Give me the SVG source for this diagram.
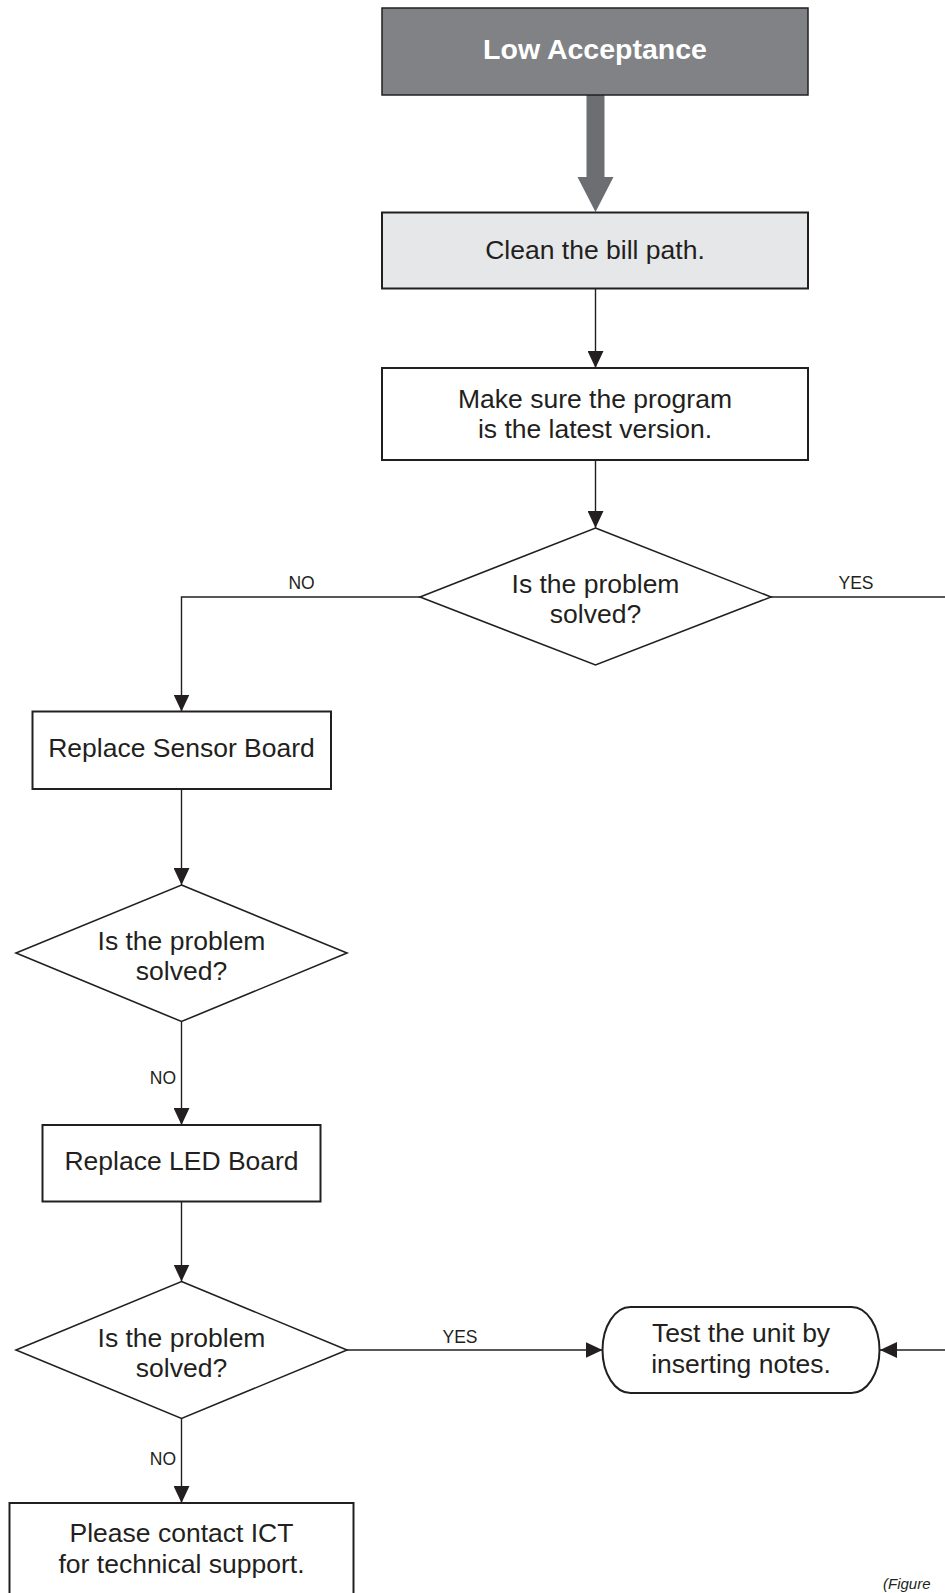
<svg xmlns="http://www.w3.org/2000/svg" width="945" height="1593" viewBox="0 0 945 1593">
<defs>
<style>
.t{font-family:"Liberation Sans",Arial,sans-serif;font-size:26.5px;fill:#231f20;text-anchor:middle}
.lbl{font-family:"Liberation Sans",Arial,sans-serif;font-size:17.5px;fill:#231f20}
.box{fill:#fff;stroke:#231f20;stroke-width:2}
.dia{fill:#fff;stroke:#231f20;stroke-width:1.6}
.ln{fill:none;stroke:#231f20;stroke-width:1.4}
.arr{marker-end:url(#ah)}
</style>
<marker id="ah" markerUnits="userSpaceOnUse" markerWidth="17" markerHeight="16" refX="17" refY="8" orient="auto">
<path d="M0,0 L17,8 L0,16 z" fill="#231f20"/>
</marker>
</defs>
<rect width="945" height="1593" fill="#fff"/>

<g id="connectors">
<polygon points="586.5,95 604.5,95 604.5,177 613.5,177 595.5,212 577.5,177 586.5,177" fill="#6d6e71"/>
<line class="ln arr" x1="595.5" y1="289" x2="595.5" y2="368"/>
<line class="ln arr" x1="595.5" y1="460" x2="595.5" y2="528"/>
<polyline class="ln arr" points="420,597 181.5,597 181.5,711.5"/>
<line class="ln" x1="771" y1="597" x2="945" y2="597"/>
<line class="ln arr" x1="181.5" y1="789" x2="181.5" y2="885"/>
<line class="ln arr" x1="181.5" y1="1021.5" x2="181.5" y2="1125"/>
<line class="ln arr" x1="181.5" y1="1201.5" x2="181.5" y2="1281.5"/>
<line class="ln arr" x1="347" y1="1350" x2="602.5" y2="1350"/>
<line class="ln arr" x1="945" y1="1350" x2="880" y2="1350"/>
<line class="ln arr" x1="181.5" y1="1418.5" x2="181.5" y2="1503"/>
<text class="lbl" x="301.5" y="589" text-anchor="middle">NO</text>
<text class="lbl" x="856" y="589" text-anchor="middle">YES</text>
<text class="lbl" x="176" y="1084" text-anchor="end">NO</text>
<text class="lbl" x="460" y="1343" text-anchor="middle">YES</text>
<text class="lbl" x="176" y="1465" text-anchor="end">NO</text>
</g>

<g id="start">
<rect x="382" y="8" width="426" height="87" fill="#808285" stroke="#231f20" stroke-width="1.5"/>
<text x="595" y="59" style="font-family:'Liberation Sans',Arial,sans-serif;font-size:28.5px;font-weight:bold;fill:#fff;text-anchor:middle">Low Acceptance</text>
</g>

<g id="clean">
<rect x="382" y="212.5" width="426" height="76" fill="#e6e7e8" stroke="#231f20" stroke-width="2"/>
<text class="t" x="595" y="259">Clean the bill path.</text>
</g>

<g id="program">
<rect class="box" x="382" y="368" width="426" height="92"/>
<text class="t" x="595" y="408">Make sure the program</text>
<text class="t" x="595" y="438">is the latest version.</text>
</g>

<g id="decision1">
<polygon class="dia" points="595.5,528 771,597 595.5,665 420,597"/>
<text class="t" x="595.5" y="593">Is the problem</text>
<text class="t" x="595.5" y="623">solved?</text>
</g>

<g id="sensor">
<rect class="box" x="32.5" y="711.5" width="298.5" height="77.5"/>
<text class="t" x="181.5" y="757">Replace Sensor Board</text>
</g>

<g id="decision2">
<polygon class="dia" points="181.5,885 347,953 181.5,1021.5 16,953"/>
<text class="t" x="181.5" y="949.5">Is the problem</text>
<text class="t" x="181.5" y="980">solved?</text>
</g>

<g id="led">
<rect class="box" x="42.5" y="1125" width="278" height="76.5"/>
<text class="t" x="181.5" y="1170">Replace LED Board</text>
</g>

<g id="decision3">
<polygon class="dia" points="181.5,1281.5 347,1350 181.5,1418.5 16,1350"/>
<text class="t" x="181.5" y="1346.5">Is the problem</text>
<text class="t" x="181.5" y="1377">solved?</text>
</g>

<g id="test">
<rect class="box" x="602.5" y="1307" width="277" height="86" rx="28" ry="43"/>
<text class="t" x="741" y="1342">Test the unit by</text>
<text class="t" x="741" y="1373">inserting notes.</text>
</g>

<g id="contact">
<rect class="box" x="9.5" y="1503" width="344" height="130"/>
<text class="t" x="181.5" y="1541.5">Please contact ICT</text>
<text class="t" x="181.5" y="1573">for technical support.</text>
</g>

<g id="caption">
<text x="883" y="1589" style="font-family:'Liberation Sans',Arial,sans-serif;font-size:15px;font-style:italic;fill:#231f20">(Figure</text>
</g>
</svg>
